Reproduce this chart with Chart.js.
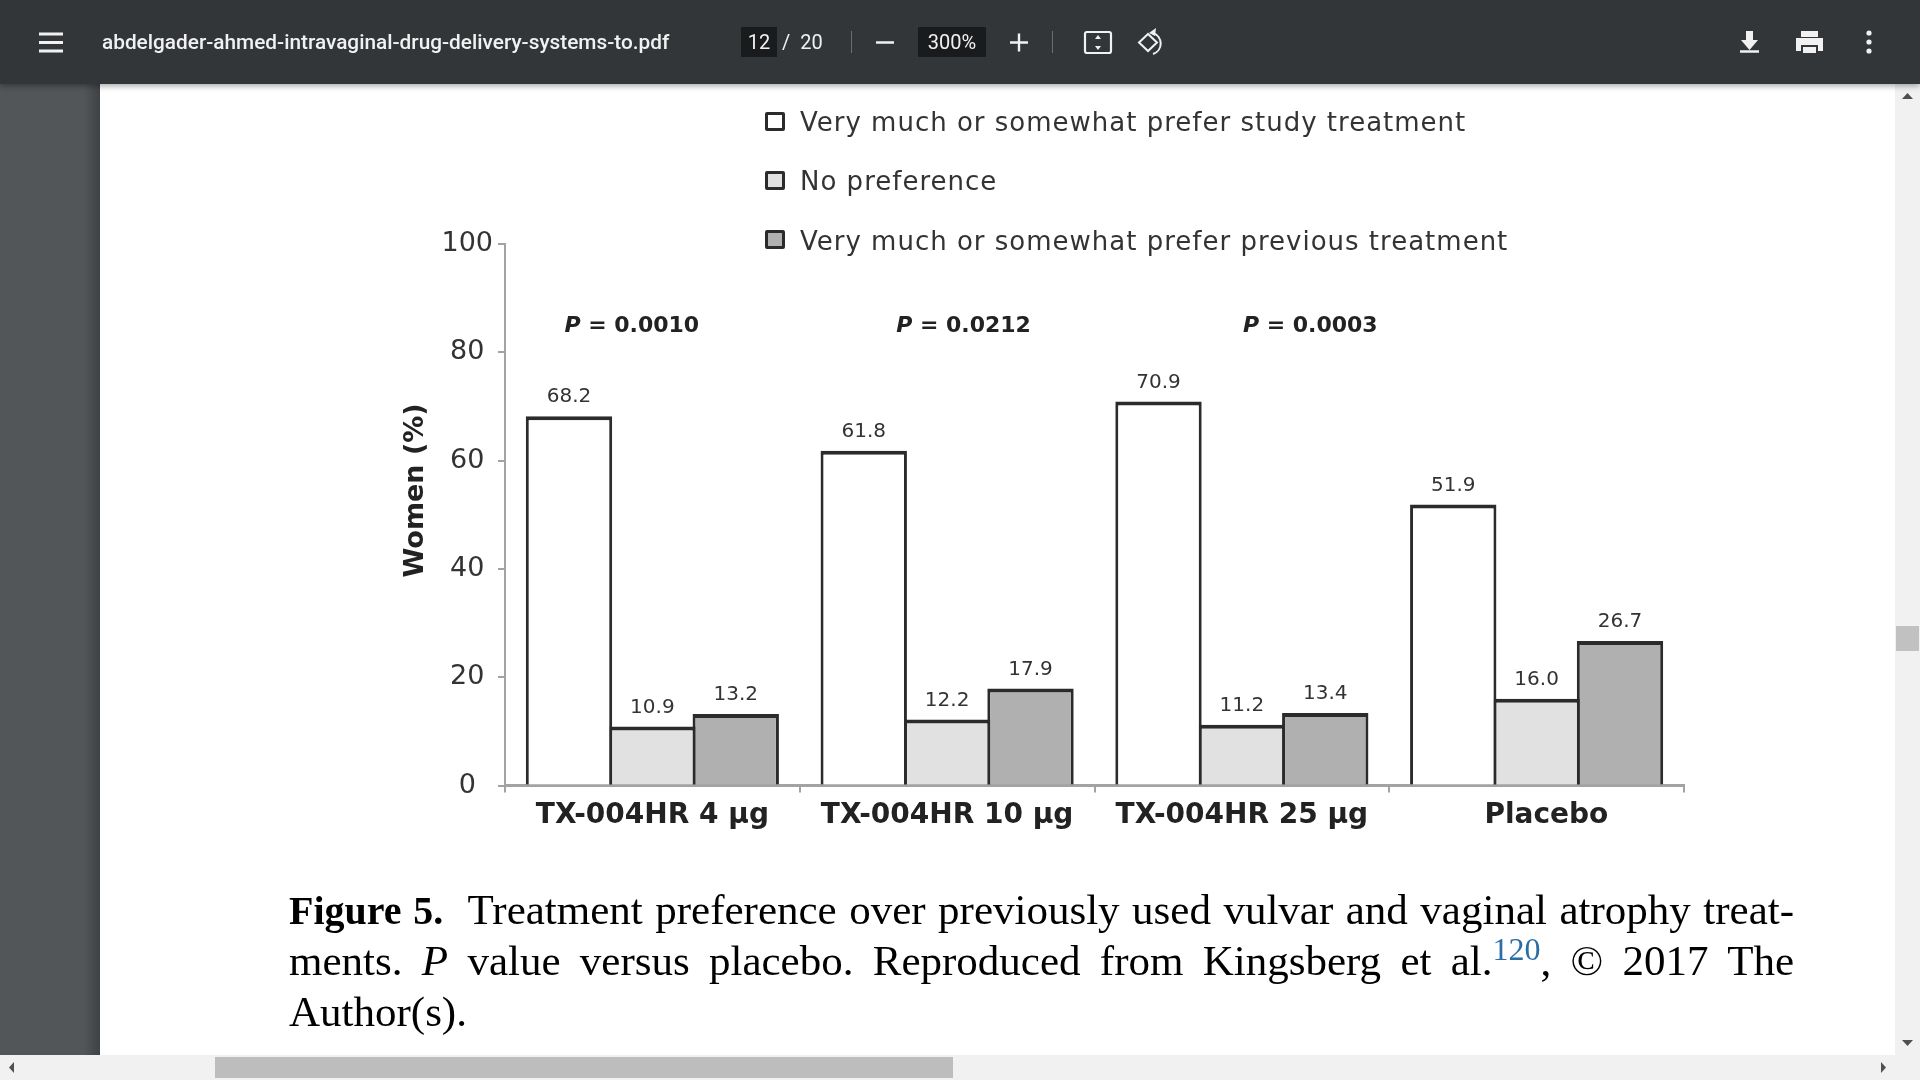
<!DOCTYPE html>
<html>
<head>
<meta charset="utf-8">
<title>Treatment preference</title>
<script src="https://cdn.jsdelivr.net/npm/chart.js@4"></script>
<style>
  html, body { margin: 0; padding: 0; width: 1920px; height: 1080px; overflow: hidden; background: #fff; }
  #chart { position: absolute; left: 0; top: 0; }
  .abs { position: absolute; }
  /* viewer chrome */
  #toolbar { left: 0; top: 0; width: 1920px; height: 84px; background: #323639; box-shadow: 0 2px 6px rgba(0,0,0,.35); color: #f1f1f1; font-family: Roboto, sans-serif; }
  #side { left: 0; top: 84px; width: 100px; height: 971px; background: linear-gradient(to right, #525659 0, #525659 84px, #3f4245 100px); }
  #vbar { left: 1895px; top: 84px; width: 25px; height: 971px; background: #f1f1f1; }
  #vthumb { left: 1896px; top: 626px; width: 23px; height: 25px; background: #c1c1c1; }
  #hbar { left: 0; top: 1055px; width: 1920px; height: 25px; background: #f1f1f1; }
  #hthumb { left: 215px; top: 1057px; width: 738px; height: 21px; background: #bdbdbd; }
  .box { background: #191b1c; top: 27px; height: 30px; }
  .sep { background: #6b6e70; width: 1px; top: 31px; height: 22px; }
  .tb { top: 27px; height: 30px; line-height: 30px; font-size: 20px; white-space: nowrap; }
  /* legend */
  .lg-box { position: absolute; left: 765px; width: 14px; height: 13px; border: 3px solid #2b2b2b; border-radius: 2px; }
  .lg-text { position: absolute; left: 800px; font: 26px "DejaVu Sans", sans-serif; letter-spacing: 1px; color: #333; white-space: nowrap; line-height: 30px; }
  /* caption */
  .cap { position: absolute; left: 289px; width: 1505px; font: 43px/51px "Liberation Serif", serif; color: #000; white-space: nowrap; }
  .cap b { font-size: 40px; }
  .just { white-space: normal; text-align: justify; text-align-last: justify; }
  .cap sup { color: #2a6ea6; font-size: 32px; line-height: 0; }
</style>
</head>
<body>
<canvas id="chart" width="1920" height="1080"></canvas>
<div id="legend"></div>

<div class="cap just" style="top:884px"><b>Figure 5.</b>&nbsp; Treatment preference over previously used vulvar and vaginal atrophy treat-</div>
<div class="cap just" style="top:935px">ments. <i>P</i> value versus placebo. Reproduced from Kingsberg et al.<sup>120</sup>, © 2017 The</div>
<div class="cap" style="top:986px">Author(s).</div>

<div class="abs" id="side"></div>
<div class="abs" id="vbar"></div>
<div class="abs" id="vthumb"></div>
<div class="abs" id="hbar"></div>
<div class="abs" id="hthumb"></div>
<svg class="abs" style="left:0;top:1055px" width="1920" height="25">
  <path d="M14 7 L14 18 L9 12.5 Z" fill="#505050"/>
  <path d="M1881 7 L1881 18 L1886 12.5 Z" fill="#505050"/>
</svg>
<svg class="abs" style="left:1895px;top:84px" width="25" height="971">
  <path d="M7 15 L18 15 L12.5 9 Z" fill="#505050"/>
  <path d="M7 956 L18 956 L12.5 962 Z" fill="#505050"/>
</svg>

<div class="abs" id="toolbar">
  <svg class="abs" style="left:0;top:0" width="1920" height="84" fill="none" stroke="#f1f1f1">
    <path d="M39 34H63M39 42.5H63M39 51H63" stroke-width="3"/>
    <path d="M876 42.5H894M1010 42.5H1028M1019 33.5V51.5" stroke-width="2.4"/>
    <rect x="1085" y="32" width="26" height="21" rx="2" stroke-width="2.2"/>
    <path d="M1098 35l-3 4h6zM1098 50l-3-4h6z" fill="#f1f1f1" stroke="none"/>
    <path d="M1148 34l-9 8.5 9 8.5 9-8.5z" stroke-width="2"/>
    <path d="M1153 33a11 11 0 0 1 0 21" stroke-width="2"/>
    <path d="M1156 28l-7 5 6 3z" fill="#f1f1f1" stroke="none"/>
    <path d="M1746 31h7v9h5l-8.5 10-8.5-10h5z" fill="#f1f1f1" stroke="none"/>
    <path d="M1740 51.5h19" stroke-width="2.5"/>
    <path d="M1801 31h17v6h-17zM1796 38h27v13h-5v-6h-17v6h-5zM1803 47h13v6h-13z" fill="#f1f1f1" stroke="none"/>
    <circle cx="1869" cy="33" r="2.6" fill="#f1f1f1" stroke="none"/>
    <circle cx="1869" cy="42" r="2.6" fill="#f1f1f1" stroke="none"/>
    <circle cx="1869" cy="51" r="2.6" fill="#f1f1f1" stroke="none"/>
  </svg>
  <div class="abs tb" style="left:102px;font-weight:500;font-size:20.8px">abdelgader-ahmed-intravaginal-drug-delivery-systems-to.pdf</div>
  <div class="abs box" style="left:741px;width:36px"></div>
  <div class="abs tb" style="left:741px;width:36px;text-align:center">12</div>
  <div class="abs tb" style="left:782px">/&nbsp; 20</div>
  <div class="abs sep" style="left:851px"></div>
  <div class="abs box" style="left:918px;width:68px"></div>
  <div class="abs tb" style="left:918px;width:68px;text-align:center">300%</div>
  <div class="abs sep" style="left:1052px"></div>
</div>

<script>
var categories = ["TX-004HR 4 µg", "TX-004HR 10 µg", "TX-004HR 25 µg", "Placebo"];
var seriesNames = [
  "Very much or somewhat prefer study treatment",
  "No preference",
  "Very much or somewhat prefer previous treatment"
];
var studyTreatment = [68.2, 61.8, 70.9, 51.9];
var noPreference = [10.9, 12.2, 11.2, 16.0];
var previousTreatment = [13.2, 17.9, 13.4, 26.7];
var pValues = ["= 0.0010", "= 0.0212", "= 0.0003"];
var yTickLabels = [0, 20, 40, 60, 80, 100];

var INK = "#2b2b2b";
var TEXT = "#333";
var AXIS = "#a3a3a3";
var FONT = '"DejaVu Sans", sans-serif';

// barPercentage over 1 lets neighbours overlap so they share one border
function barStyle(fill) {
  return {
    backgroundColor: fill,
    borderColor: INK,
    borderWidth: { top: 4, left: 3, right: 3, bottom: 0 },
    borderSkipped: false,
    categoryPercentage: 0.8486,
    barPercentage: 1.036
  };
}

var figureText = {
  id: "figureText",
  afterDatasetsDraw: function (chart) {
    var ctx = chart.ctx;
    var x = chart.scales.x;
    var y = chart.scales.y;
    ctx.save();

    // value labels over the bars
    ctx.font = "20px " + FONT;
    ctx.fillStyle = TEXT;
    ctx.textAlign = "center";
    ctx.textBaseline = "middle";
    chart.data.datasets.forEach(function (ds, i) {
      chart.getDatasetMeta(i).data.forEach(function (bar, j) {
        ctx.fillText(ds.data[j].toFixed(1), bar.x, bar.y - 19);
      });
    });

    // P values, shifted off the group centres as in the figure
    var shift = [-21, 16, 68];
    pValues.forEach(function (p, i) {
      var left = x.getPixelForValue(i) + shift[i] - 67;
      var top = y.getPixelForValue(84.8);
      ctx.textAlign = "left";
      ctx.fillStyle = "#222";
      ctx.font = "italic bold 22px " + FONT;
      ctx.fillText("P", left, top);
      var w = ctx.measureText("P ").width;
      ctx.font = "bold 22px " + FONT;
      ctx.fillText(p, left + w, top);
    });

    // axis title sits below the middle of the axis in the figure
    ctx.translate(416, y.getPixelForValue(54.5));
    ctx.rotate(-Math.PI / 2);
    ctx.textAlign = "center";
    ctx.font = "bold 27px " + FONT;
    ctx.fillStyle = "#222";
    ctx.fillText("Women (%)", 0, 0);
    ctx.restore();
  }
};

var chart = new Chart(document.getElementById("chart"), {
  type: "bar",
  data: {
    labels: categories,
    datasets: [
      Object.assign({ label: seriesNames[0], data: studyTreatment }, barStyle("#ffffff")),
      Object.assign({ label: seriesNames[1], data: noPreference }, barStyle("#e1e1e1")),
      Object.assign({ label: seriesNames[2], data: previousTreatment }, barStyle("#b0b0b0"))
    ]
  },
  options: {
    responsive: false,
    animation: false,
    layout: { padding: { left: 0, top: 244, right: 236, bottom: 234.5 } },
    plugins: { legend: { display: false }, tooltip: { enabled: false } },
    scales: {
      x: {
        afterFit: function (s) { s.height = 60; },
        grid: { drawOnChartArea: false, color: AXIS, lineWidth: 2, tickLength: 7 },
        border: { color: AXIS, width: 3 },
        ticks: {
          color: "#222",
          font: { family: FONT, size: 28, weight: "bold" },
          padding: 6,
          maxRotation: 0,
          // Placebo is set a little right of its group in the figure
          callback: function (v, i) { return i === 3 ? "  " + categories[i] : categories[i]; }
        }
      },
      y: {
        min: 0,
        max: 100,
        afterFit: function (s) { s.width = 505; },
        afterBuildTicks: function (s) { s.ticks = yTickLabels.map(function (v) { return { value: v }; }); },
        grid: { drawOnChartArea: false, color: AXIS, lineWidth: 2, tickLength: 7 },
        border: { color: AXIS, width: 2 },
        ticks: { color: TEXT, font: { family: FONT, size: 27 }, padding: 5, crossAlign: "center" }
      }
    }
  },
  plugins: [figureText]
});

// legend rows built from the chart's own datasets
var legendEl = document.getElementById("legend");
chart.data.datasets.forEach(function (ds, i) {
  var box = document.createElement("div");
  box.className = "lg-box";
  box.style.top = Math.round(112 + i * 59.2) + "px";
  box.style.background = ds.backgroundColor;
  legendEl.appendChild(box);
  var txt = document.createElement("div");
  txt.className = "lg-text";
  txt.style.top = Math.round(107 + i * 59.3) + "px";
  txt.textContent = ds.label;
  legendEl.appendChild(txt);
});
</script>
</body>
</html>
